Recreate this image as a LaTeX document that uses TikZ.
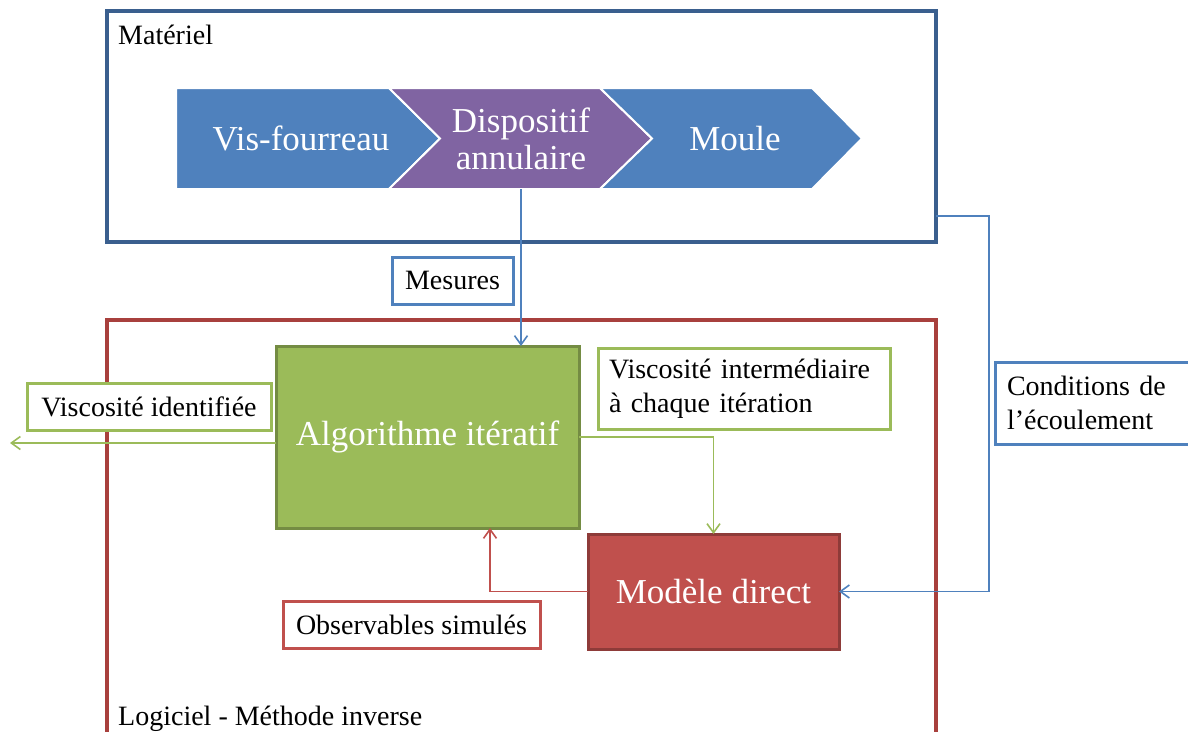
\documentclass[tikz,border=0pt]{standalone}
\usepackage{fontspec}
\setmainfont{Liberation Serif}
\usetikzlibrary{arrows.meta,calc}
\definecolor{cblue}{HTML}{4F81BD}
\definecolor{matblue}{HTML}{3A5F8E}
\definecolor{cpurple}{HTML}{8064A2}
\definecolor{cgreen}{HTML}{9BBB59}
\definecolor{cgreendk}{HTML}{748C43}
\definecolor{cred}{HTML}{C0504D}
\definecolor{creddk}{HTML}{8E3B39}
\definecolor{logred}{HTML}{A8403D}
\begin{document}
\begin{tikzpicture}[x=1pt,y=-1pt,
  smalltxt/.style={font=\fontsize{28pt}{33.5pt}\selectfont},
  bigtxt/.style={font=\fontsize{35pt}{37pt}\selectfont, text=white},
  frame/.style={draw, line width=3.1pt, inner sep=0pt, outer sep=0pt},
  lblbox/.style={draw, line width=3pt, fill=white, inner sep=0pt, outer sep=0pt, smalltxt},
  mainbox/.style={line width=3pt, inner sep=0pt, outer sep=0pt, bigtxt},
  chev/.style={draw=white, line width=2pt, line join=miter},
  conn/.style={line width=1.6pt, -{Straight Barb[length=9pt,width=13pt,line width=1.6pt]}}
]
\useasboundingbox (0,0) rectangle (1188,731);
\clip (0,0) rectangle (1188,731);

% group frames
\node[frame, draw=matblue, minimum width=829pt, minimum height=231pt] (materiel) at (521.5,126.5) {};
\node[frame, draw=logred, minimum width=829pt, minimum height=440pt] (logiciel) at (521.5,540) {};
\node[anchor=base west, smalltxt, inner sep=0pt] (matlbl) at (118,44) {Matériel};
\node[anchor=base west, smalltxt, inner sep=0pt] (loglbl) at (118,725) {Logiciel - Méthode inverse};

% chevrons
\fill[cblue, chev] (176,88) -- (389,88) -- (440,138.5) -- (389,189) -- (176,189) -- cycle;
\fill[cpurple, chev] (389,88) -- (600,88) -- (652,138.5) -- (600,189) -- (389,189) -- (440,138.5) -- cycle;
\fill[cblue, chev] (600,88) -- (812,88) -- (862,138.5) -- (812,189) -- (600,189) -- (652,138.5) -- cycle;
\node[bigtxt] (vis) at (301,138.5) {Vis-fourreau};
\node[bigtxt, align=center, minimum height=101pt, inner sep=0pt, outer sep=0pt] (dispo) at (521,138.5) {Dispositif\\annulaire};
\node[bigtxt] (moule) at (735,138.5) {Moule};

% main boxes
\node[mainbox, fill=cgreen, draw=cgreendk, minimum width=303pt, minimum height=182pt] (algo) at (427.5,437) {Algorithme itératif};
\node[mainbox, fill=cred, draw=creddk, minimum width=251pt, minimum height=115pt] (modele) at (713.5,591.5) {Modèle direct};

% connectors
\coordinate (leftend) at (10,443);
\draw[conn, draw=cblue] (dispo.south) -- (dispo.south |- algo.north);
\draw[conn, draw=cgreen] ($(algo.west)+(0,6)$) -- (leftend);
\draw[conn, draw=cgreen] (algo.east) -| (modele.north);
\draw[conn, draw=cred] (modele.west) -| ($(algo.south west)+(214,0)$);
\draw[conn, draw=cblue] ($(materiel.south east)+(0,-26)$) -| ($(modele.east)+(150,0)$) -- (modele.east);

% label boxes
\node[lblbox, draw=cblue, minimum width=121pt, minimum height=47pt] (mes) at (452.5,280.5) {Mesures};
\node[lblbox, draw=cgreen, minimum width=244pt, minimum height=47pt] (visid) at (149,406.5) {Viscosité identifiée};
\node[lblbox, draw=cgreen, minimum width=292pt, minimum height=81pt, align=left, text width=270pt] (visint) at (744,388.5) {Viscosité intermédiaire\\à chaque itération};
\node[lblbox, draw=cred, minimum width=257pt, minimum height=47pt] (obs) at (411.5,624.5) {Observables simulés};
\node[lblbox, draw=cblue, minimum width=220pt, minimum height=82pt, align=left, text width=196pt] (cond) at (1105,403) {Conditions de\\l’écoulement};
\end{tikzpicture}
\end{document}
